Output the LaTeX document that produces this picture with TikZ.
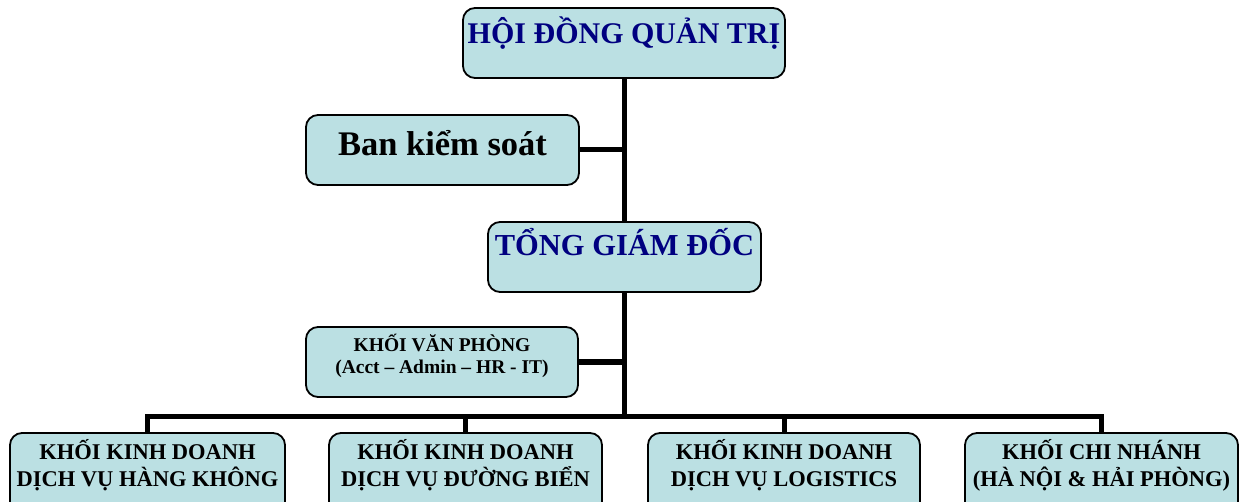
\documentclass[tikz,border=0pt]{standalone}
\usepackage{fontspec}
\setmainfont{Liberation Serif}
\definecolor{boxfill}{RGB}{187,224,227}
\definecolor{navy}{RGB}{0,0,128}
\pgfdeclarelayer{background}
\pgfsetlayers{background,main}
\begin{document}
\begin{tikzpicture}[x=1pt,y=-1pt,
  box/.style={draw=black,line width=1.8pt,fill=boxfill,rounded corners=12pt,inner sep=0pt},
  link/.style={line width=5pt,black},
  lbl/.style={inner sep=0pt,align=center,font=\bfseries}]
\useasboundingbox (0,0) rectangle (1247,502);
\clip (0,0) rectangle (1247,502);
% boxes
\node[box,minimum width=322pt,minimum height=70pt] (hdqt) at (624,43) {};
\node[box,minimum width=273pt,minimum height=70pt] (bks) at (442.5,150) {};
\node[box,minimum width=273pt,minimum height=70pt] (tgd) at (624.5,257) {};
\node[box,minimum width=272pt,minimum height=70pt] (kvp) at (442,362) {};
\node[box,minimum width=275pt,minimum height=90pt] (b1) at (147.5,478) {};
\node[box,minimum width=273pt,minimum height=90pt] (b2) at (465.5,478) {};
\node[box,minimum width=272pt,minimum height=90pt] (b3) at (784,478) {};
\node[box,minimum width=273pt,minimum height=90pt] (b4) at (1101.5,478) {};
% texts
\node[lbl,text=navy,font=\bfseries\fontsize{30}{32}\selectfont] (thdqt) at (624,33) {HỘI ĐỒNG QUẢN TRỊ};
\node[lbl,font=\bfseries\fontsize{34.5}{36}\selectfont] (tbks) at (442.5,143) {Ban kiểm soát};
\node[lbl,text=navy,font=\bfseries\fontsize{30.5}{32}\selectfont] (ttgd) at (624.5,242) {TỔNG GIÁM ĐỐC};
\node[lbl,font=\bfseries\fontsize{19.5}{22}\selectfont] (tkvp) at (442,356) {KHỐI VĂN PHÒNG\\(Acct – Admin – HR - IT)};
\node[lbl,font=\bfseries\fontsize{22.5}{27}\selectfont] (tb1) at (147.5,465) {KHỐI KINH DOANH\\DỊCH VỤ HÀNG KHÔNG};
\node[lbl,font=\bfseries\fontsize{22.5}{27}\selectfont] (tb2) at (465.5,465) {KHỐI KINH DOANH\\DỊCH VỤ ĐƯỜNG BIỂN};
\node[lbl,font=\bfseries\fontsize{22.5}{27}\selectfont] (tb3) at (784,465) {KHỐI KINH DOANH\\DỊCH VỤ LOGISTICS};
\node[lbl,font=\bfseries\fontsize{22.5}{27}\selectfont] (tb4) at (1101.5,465) {KHỐI CHI NHÁNH\\(HÀ NỘI \& HẢI PHÒNG)};
% connectors
\coordinate (bus) at (624,416);
\begin{pgfonlayer}{background}
\draw[link] (hdqt.south) -- (bus);
\draw[link] (bks.east) -- (bks.east -| hdqt.south);
\draw[link] (kvp.east) -- (kvp.east -| hdqt.south);
\draw[link] (b1.north) |- (b4.north |- bus) -- (b4.north);
\draw[link] (b2.north) -- (b2.north |- bus);
\draw[link] (b3.north) -- (b3.north |- bus);
\end{pgfonlayer}
\end{tikzpicture}
\end{document}
